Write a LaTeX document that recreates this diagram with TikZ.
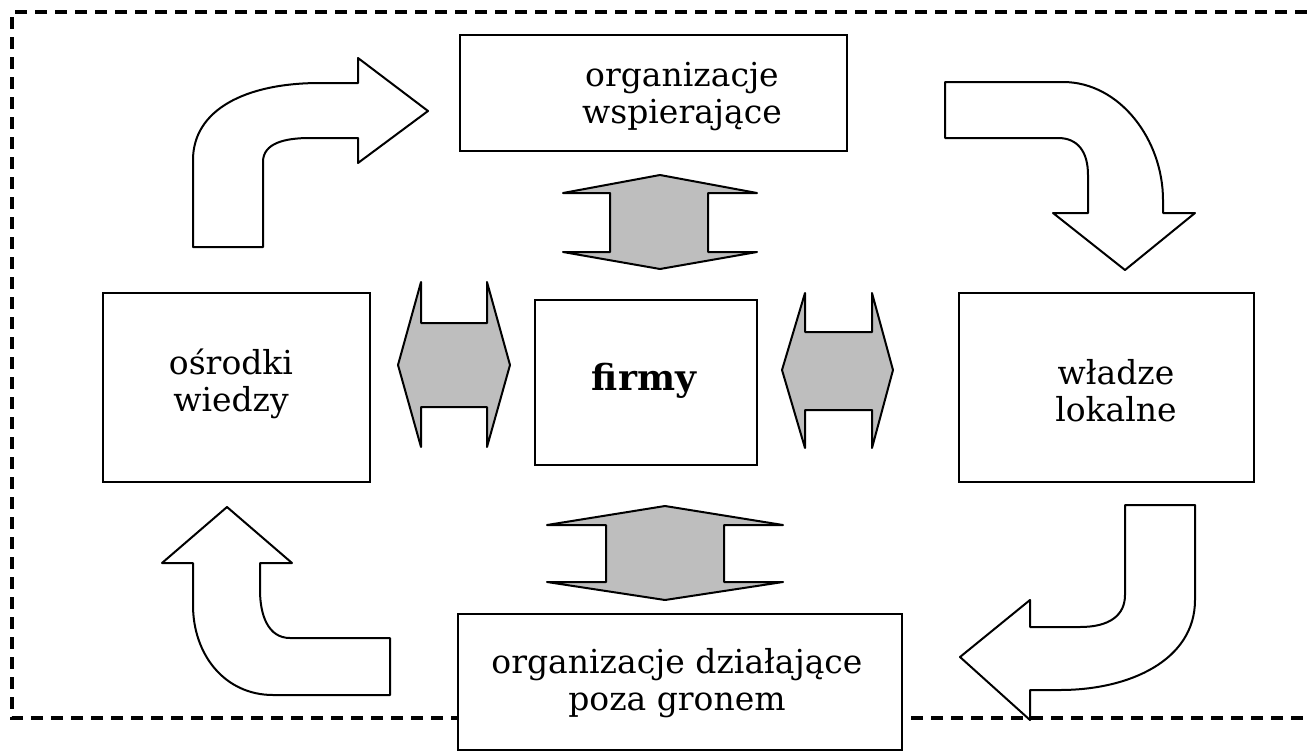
\documentclass[tikz,border=0pt]{standalone}
\usepackage{fontspec}
\setmainfont{DejaVu Serif}
\begin{document}
\begin{tikzpicture}[x=1pt,y=-1pt,
  box/.style={draw, line width=2.2pt, fill=white, inner sep=0pt, rectangle},
  txt/.style={align=center, inner sep=0pt, font=\fontsize{33}{37}\selectfont},
  frame/.style={line width=3.5pt, dash pattern=on 12pt off 8pt},
  bendarrow/.style={draw, line width=2pt, fill=white, line join=round},
  twin/.style={draw, line width=2pt, fill=arrowgray, line join=round}]
\definecolor{arrowgray}{RGB}{190,190,190}
\useasboundingbox (0,0) rectangle (1307,755);
\fill[white] (0,0) rectangle (1307,755);
% dashed frame
\draw[frame] (1307,12) -- (12,12) -- (12,718) -- (1307,718);
% boxes
\node[box, minimum width=387pt, minimum height=116pt] (top) at (653.5,93) {};
\node[box, minimum width=267pt, minimum height=189pt] (left) at (236.5,387.5) {};
\node[box, minimum width=295pt, minimum height=189pt] (right) at (1106.5,387.5) {};
\node[box, minimum width=222pt, minimum height=165pt] (center) at (646,382.5) {};
\node[box, minimum width=444pt, minimum height=136pt] (bottom) at (680,682) {};
% texts
\node[txt] (toptext) at (682,97) {organizacje\\wspierające};
\node[txt] (lefttext) at (231,384) {ośrodki\\wiedzy};
\node[txt] (righttext) at (1116,391) {władze\\lokalne};
\node[txt] (bottomtext) at (677,683) {organizacje działające\\poza gronem};
\node[inner sep=0pt, font=\fontsize{36}{40}\selectfont\bfseries] (centertext) at (644,381) {firmy};
% gray double arrows
\path[twin] (660,175) -- (757,193) -- (708,193) -- (708,252) -- (757,252) -- (660,269) -- (563,252) -- (610,252) -- (610,193) -- (563,193) -- cycle;
\path[twin] (665,506) -- (783,525) -- (724,525) -- (724,582) -- (783,582) -- (665,600) -- (547,582) -- (606,582) -- (606,525) -- (547,525) -- cycle;
\path[twin] (398,365) -- (421,282) -- (421,323) -- (487,323) -- (487,282) -- (510,365) -- (487,447) -- (487,407) -- (421,407) -- (421,447) -- cycle;
\path[twin] (782,370) -- (805,293) -- (805,332) -- (872,332) -- (872,293) -- (893,370) -- (872,448) -- (872,410) -- (805,410) -- (805,448) -- cycle;
% curved outline arrows
\path[bendarrow] (193,247) -- (193,160) .. controls (193,110) and (245,83) .. (320,83) -- (358,83) -- (358,58) -- (428,111) -- (358,163) -- (358,138) -- (310,138) .. controls (285,138) and (263,143) .. (263,162) -- (263,247) -- cycle;
\path[bendarrow] (945,82) -- (1063,82) .. controls (1120,82) and (1163,140) .. (1163,200) -- (1163,213) -- (1195,213) -- (1125,270) -- (1053,213) -- (1088,213) -- (1088,175) .. controls (1088,152) and (1078,138) .. (1058,138) -- (945,138) -- cycle;
\path[bendarrow] (1125,505) -- (1195,505) -- (1195,600) .. controls (1195,660) and (1130,690) .. (1060,690) -- (1030,690) -- (1030,720) -- (960,657) -- (1030,600) -- (1030,627) -- (1080,627) .. controls (1110,627) and (1125,615) .. (1125,595) -- cycle;
\path[bendarrow] (390,638) -- (390,695) -- (273,695) .. controls (225,695) and (193,655) .. (193,605) -- (193,563) -- (162,563) -- (227,507) -- (292,563) -- (260,563) -- (260,590) .. controls (260,615) and (268,638) .. (290,638) -- cycle;
\end{tikzpicture}
\end{document}
